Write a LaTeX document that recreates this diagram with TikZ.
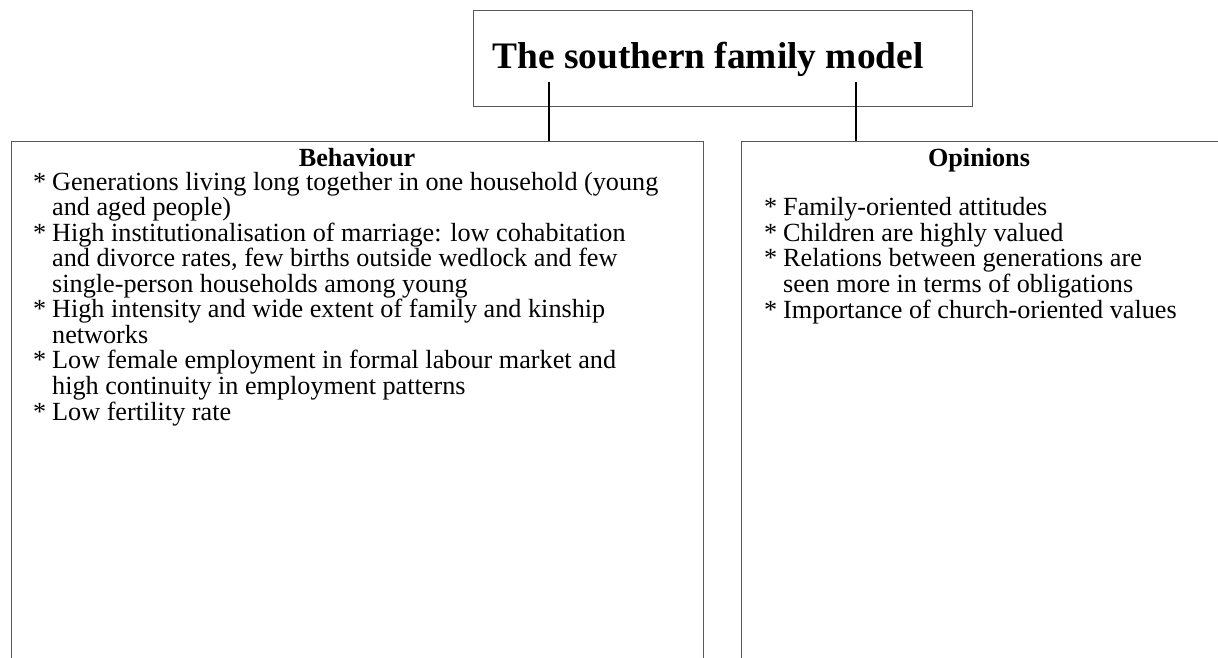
\documentclass[tikz,border=0pt]{standalone}
\usepackage{fontspec}
\setmainfont{Liberation Serif}
\newcommand\bstar{\makebox[19pt][l]{*}}
\newcommand\bcont{\hspace*{19pt}}
\begin{document}
\begin{tikzpicture}[x=1pt,y=-1pt,
  boxline/.style={draw=black!65, line width=1.3pt},
  conn/.style={draw=black, line width=1.4pt},
  body/.style={font=\fontsize{26.2}{25.55}\selectfont, align=left, inner sep=0pt},
  head/.style={font=\fontsize{26.2}{25.55}\selectfont\bfseries, inner sep=0pt}]
\useasboundingbox (0,0) rectangle (1218,657);
\clip (0,0) rectangle (1218,657);
% boxes
\node[boxline, anchor=north west, minimum width=499pt, minimum height=96pt, inner sep=0pt] (titlebox) at (473,10) {};
\node[boxline, anchor=north west, minimum width=692pt, minimum height=560pt, inner sep=0pt] (behbox) at (11,141) {};
\node[boxline, anchor=north west, minimum width=490pt, minimum height=560pt, inner sep=0pt] (opbox) at (741,141) {};
% title
\node[anchor=base, inner sep=0pt, font=\fontsize{37.4}{40}\selectfont\bfseries] (title) at (708,68) {The southern family model};
% connectors
\coordinate (c1) at (549,82);
\coordinate (c2) at (856,82);
\draw[conn] (c1) -- (c1 |- behbox.north);
\draw[conn] (c2) -- (c2 |- opbox.north);
% headings
\node[head, anchor=base] (behhead) at (357,166) {Behaviour};
\node[head, anchor=base] (ophead) at (979,166) {Opinions};
% lists (anchored at the baseline of their last line)
\node[body, anchor=base west] (behlist) at (33,420) {%
\bstar Generations living long together in one household (young\\
\bcont and aged people)\\
\bstar High institutionalisation of marriage: low cohabitation\\
\bcont and divorce rates, few births outside wedlock and few\\
\bcont single-person households among young\\
\bstar High intensity and wide extent of family and kinship\\
\bcont networks\\
\bstar Low female employment in formal labour market and\\
\bcont high continuity in employment patterns\\
\bstar Low fertility rate};
\node[body, anchor=base west] (oplist) at (764,318) {%
\bstar Family-oriented attitudes\\
\bstar Children are highly valued\\
\bstar Relations between generations are\\
\bcont seen more in terms of obligations\\
\bstar Importance of church-oriented values};
\end{tikzpicture}
\end{document}
